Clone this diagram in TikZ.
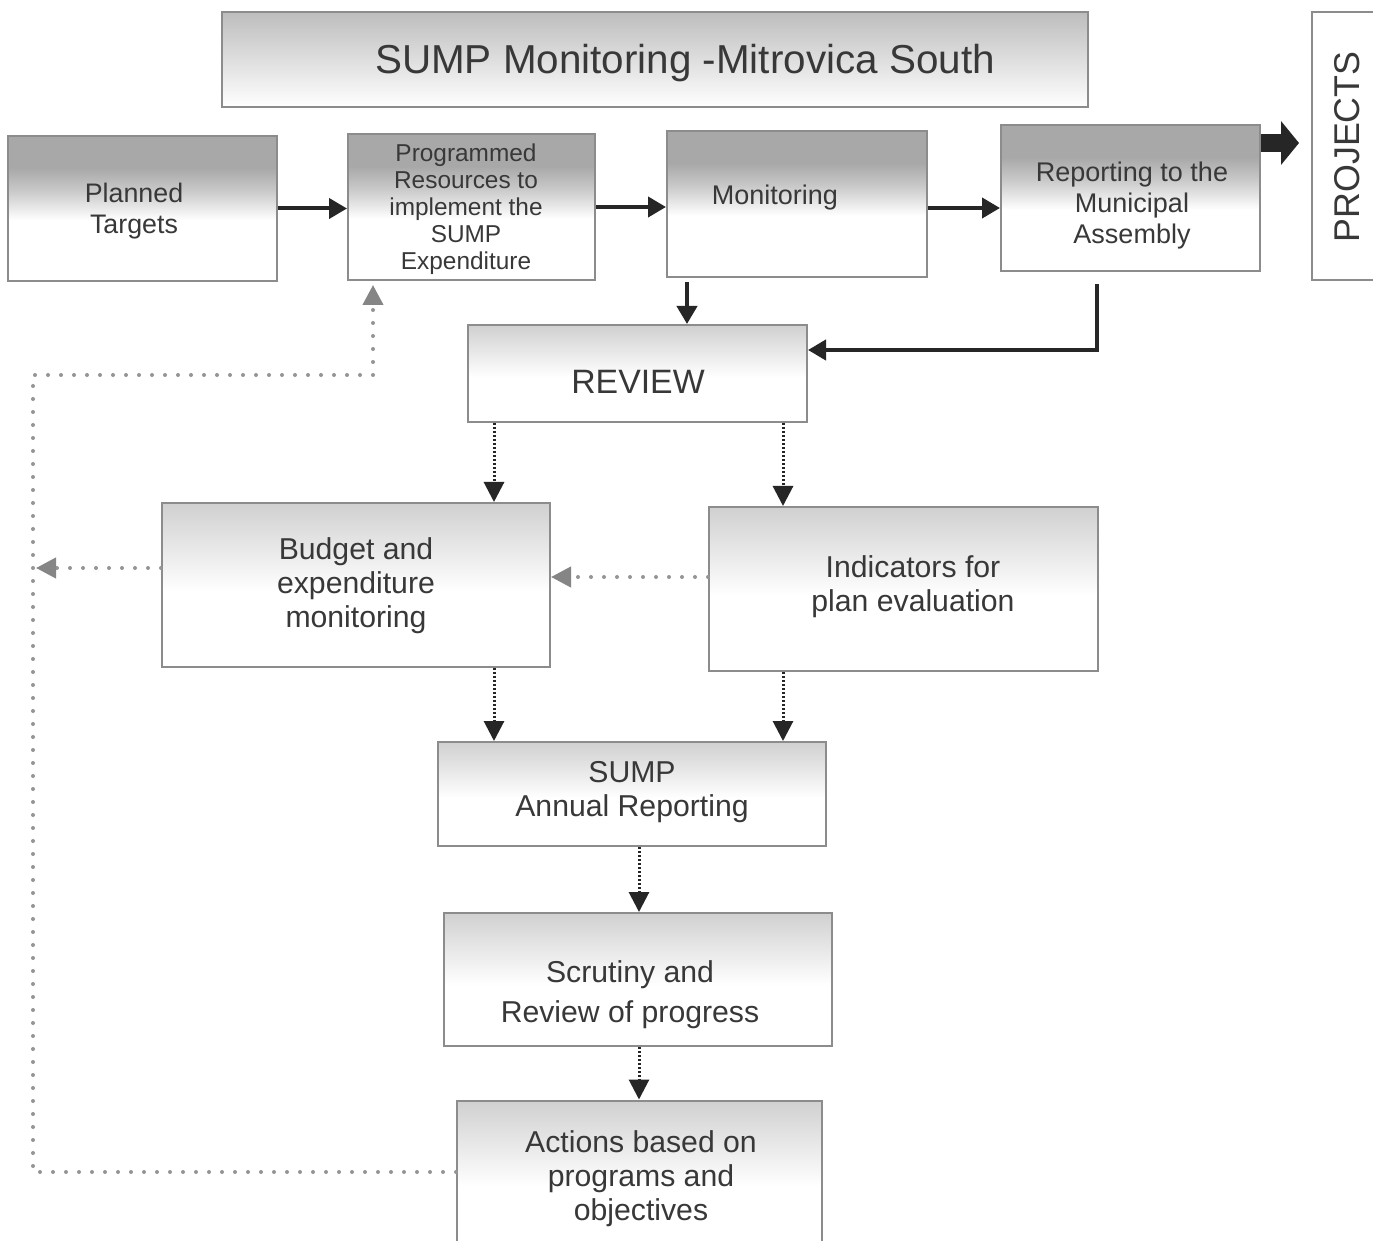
\documentclass[tikz,border=0pt]{standalone}
\usepackage{fontspec}
\setmainfont{Liberation Sans}
\usetikzlibrary{arrows.meta}
\definecolor{bordergray}{HTML}{8C8C8C}
\definecolor{txtgray}{HTML}{383838}
\definecolor{topgray}{HTML}{A8A8A8}
\definecolor{midgray}{HTML}{CACACA}
\definecolor{lowgray}{HTML}{D0D0D0}
\definecolor{titlegray}{HTML}{BDBDBD}
\definecolor{dotgray}{HTML}{959595}
\definecolor{tipgray}{HTML}{858585}
\definecolor{arrowblack}{HTML}{262626}
\pgfdeclareverticalshading{toprowshade}{100bp}{color(0bp)=(white); color(25bp)=(white); color(46bp)=(white); color(56bp)=(midgray); color(64bp)=(topgray); color(75bp)=(topgray); color(100bp)=(topgray)}
\pgfdeclareverticalshading{lowshade}{100bp}{color(0bp)=(white); color(25bp)=(white); color(48bp)=(white); color(75bp)=(lowgray); color(100bp)=(lowgray)}
\tikzset{
  box/.style={draw=bordergray, line width=1pt, rectangle, inner sep=0pt},
  toprow/.style={box, shade, shading=toprowshade},
  lowbox/.style={box, shade, shading=lowshade},
  txt/.style={text=txtgray, align=center, inner sep=0pt},
  solidarrow/.style={draw=arrowblack, line width=2pt, -{Triangle[length=9pt,width=10pt]}},
  bigarrow/.style={draw=arrowblack, line width=9pt, -{Triangle[length=9pt,width=21.5pt]}},
  dotarrow/.style={draw=arrowblack, line width=1.5pt, dash pattern=on 1pt off 1pt, -{Triangle[length=10pt,width=10pt]}},
  grayarrow/.style={draw=dotgray, line width=2pt, line cap=round, dash pattern=on 0pt off 6.5pt, -{Triangle[length=10pt,width=10pt,color=tipgray]}},
}
\begin{document}
\begin{tikzpicture}[x=0.5pt,y=-0.5pt]
\useasboundingbox (0,0) rectangle (1373,1241);
\clip (0,0) rectangle (1373,1241);
\fill[white] (0,0) rectangle (1373,1241);

% title
\node[box, shade, top color=titlegray, bottom color=white, minimum width=433pt, minimum height=47.5pt] (title) at (655,59.5) {};
\node[txt, font=\fontsize{20.2}{24}\selectfont] (titlet) at (685,63) {SUMP Monitoring -Mitrovica South};

% top row
\node[toprow, minimum width=134.5pt, minimum height=72.5pt] (plan) at (142.5,208.5) {};
\node[txt, font=\fontsize{13.4}{15.5}\selectfont] (plant) at (134,211) {Planned\\Targets};

\node[toprow, minimum width=123.5pt, minimum height=73pt] (prog) at (471.5,207) {};
\node[txt, font=\fontsize{12.2}{13.5}\selectfont] (progt) at (466,209) {Programmed\\Resources to\\implement the\\SUMP\\Expenditure};

\node[toprow, minimum width=130pt, minimum height=73pt] (mon) at (797,204) {};
\node[txt, font=\fontsize{13.5}{15.5}\selectfont] (mont) at (775,198) {Monitoring};

\node[toprow, minimum width=129.5pt, minimum height=73pt] (rep) at (1130.5,198) {};
\node[txt, font=\fontsize{13.5}{15.5}\selectfont] (rept) at (1132,206) {Reporting to the\\Municipal\\Assembly};

\node[box, fill=white, minimum width=34pt, minimum height=134pt] (proj) at (1346,146) {};
\node[txt, rotate=90, font=\fontsize{17.9}{20}\selectfont] (projt) at (1347,147) {PROJECTS};

% review
\node[lowbox, minimum width=169.5pt, minimum height=48.5pt] (rev) at (637.5,373.5) {};
\node[txt, font=\fontsize{16.9}{20}\selectfont] (revt) at (638,382) {REVIEW};

% middle row
\node[lowbox, minimum width=194pt, minimum height=82pt] (bud) at (356,585) {};
\node[txt, font=\fontsize{15.1}{17}\selectfont] (budt) at (356,586) {Budget and\\expenditure\\monitoring};

\node[lowbox, minimum width=194.5pt, minimum height=82pt] (ind) at (903.5,589) {};
\node[txt, font=\fontsize{15.1}{17}\selectfont] (indt) at (913,587) {Indicators for\\plan evaluation};

% lower column
\node[lowbox, minimum width=194pt, minimum height=52pt] (ann) at (632,794) {};
\node[txt, font=\fontsize{15.1}{17}\selectfont] (annt) at (632,792) {SUMP\\Annual Reporting};

\node[lowbox, minimum width=194pt, minimum height=66.5pt] (scr) at (638,979.5) {};
\node[txt, font=\fontsize{15.1}{20}\selectfont] (scrt) at (630,995) {Scrutiny and\\Review of progress};

\node[lowbox, minimum width=182.5pt, minimum height=79.5pt] (act) at (639.5,1180) {};
\node[txt, font=\fontsize{15.1}{17}\selectfont] (actt) at (641,1179) {Actions based on\\programs and\\objectives};

% coordinates for free ends / bends
\coordinate (leftend) at (36,568);
\coordinate (loopbl) at (33,1172);
\coordinate (looptl) at (33,375);
\coordinate (looptr) at (373,375);

% solid connectors
\draw[solidarrow] (plan.east) -- (plan.east -| prog.west);
\draw[solidarrow] (prog.east) -- (prog.east -| mon.west);
\draw[solidarrow] ([yshift=-2pt]mon.east) -- ([yshift=-2pt]mon.east -| rep.west);
\draw[solidarrow] ([xshift=-55pt,yshift=-2pt]mon.south) -- ([xshift=-55pt]mon.south |- rev.north);
\draw[solidarrow] ([xshift=-16.75pt,yshift=-6pt]rep.south) |- ([yshift=11.75pt]rev.east);
\draw[bigarrow, shorten >=6pt] ([yshift=27.5pt]rep.east) -- ([yshift=27.5pt]rep.east -| proj.west);

% black dotted connectors
\draw[dotarrow] ([xshift=-71.75pt]rev.south) -- ([xshift=-71.75pt]rev.south |- bud.north);
\draw[dotarrow] ([xshift=72.75pt]rev.south) -- ([xshift=72.75pt]rev.south |- ind.north);
\draw[dotarrow] ([xshift=69pt]bud.south) -- ([xshift=69pt]bud.south |- ann.north);
\draw[dotarrow] ([xshift=-60.25pt]ind.south) -- ([xshift=-60.25pt]ind.south |- ann.north);
\draw[dotarrow] ([xshift=3.5pt]ann.south) -- ([xshift=3.5pt]ann.south |- scr.north);
\draw[dotarrow] ([xshift=0.5pt]scr.south) -- ([xshift=0.5pt]scr.south |- act.north);

% gray dotted connectors
\draw[grayarrow] ([yshift=6pt]ind.west) -- ([yshift=6pt]ind.west -| bud.east);
\draw[grayarrow] ([yshift=8.5pt]bud.west) -- (leftend);
\draw[grayarrow, shorten >=2pt] ([yshift=4pt]act.west) -- (loopbl) -- (looptl) -- (looptr) -- (looptr |- prog.south);
\end{tikzpicture}
\end{document}
